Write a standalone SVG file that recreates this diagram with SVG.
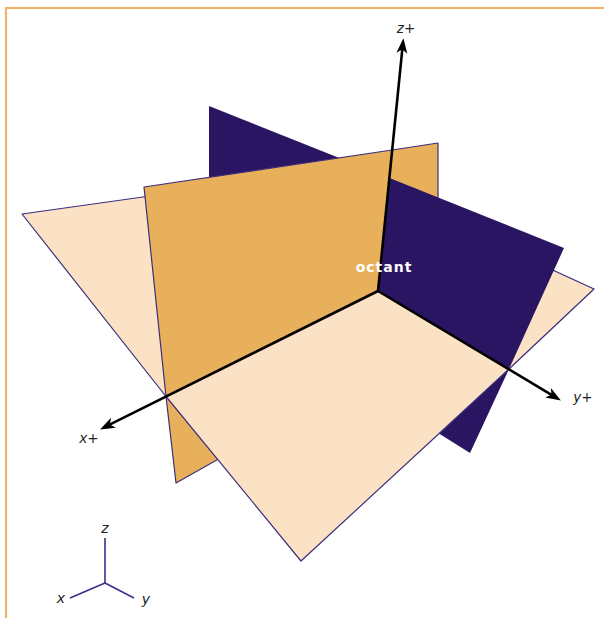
<svg xmlns="http://www.w3.org/2000/svg" width="604" height="618" viewBox="0 0 604 618">
<style>
.xy{fill:#FBE2C5}
.xz{fill:#E9B05C}
.yz{fill:#2A1562}
.edge{fill:none;stroke:#3D2E7C;stroke-width:1.2;stroke-linejoin:round}
.axis{stroke:#000;stroke-width:2.6;fill:none}
.lbl{font-family:"DejaVu Sans","Liberation Sans",sans-serif;font-size:13.5px;fill:#222}
.mini{stroke:#3D2E8A;stroke-width:1.6;fill:none}
.minilbl{font-family:"DejaVu Sans","Liberation Sans",sans-serif;font-size:14px;font-style:italic;fill:#222}
</style>
<defs>
<marker id="arrow" markerUnits="userSpaceOnUse" markerWidth="20" markerHeight="20" refX="0" refY="0" orient="auto" overflow="visible">
<path d="M9,0 L-6,-5.5 L-2,0 L-6,5.5 Z" fill="#000"/>
</marker>
</defs>
<rect x="6" y="8" width="700" height="700" fill="none" stroke="#EEB468" stroke-width="2.2"/>

<!-- back pieces -->
<g id="xy-plane-back">
<polygon class="xy" points="378,291 483,238 335,170 207,188"/>
<polyline class="edge" points="483,238 335,170 207,188"/>
</g>
<g id="xz-plane-back">
<polygon class="xz" points="378,291 438,261 438,334 369,374"/>
<polyline class="edge" points="438,261 438,334 369,374"/>
</g>
<g id="yz-plane-back">
<polygon class="yz" points="378,291 368,389 209,289 209,189"/>
</g>

<!-- middle pieces -->
<g id="yz-plane-upper-left">
<polygon class="yz" points="378,291 209,189 209,106 389.5,178"/>
</g>
<g id="yz-plane-lower-right">
<polygon class="yz" points="378,291 509,369 470,453 368,389"/>
</g>
<g id="xz-plane-upper-right">
<polygon class="xz" points="378,291 392,150 438,143 438,261"/>
<polyline class="edge" points="392,150 438,143 438,261"/>
</g>
<g id="xz-plane-lower-left">
<polygon class="xz" points="378,291 369,374 176,483 166,396.5"/>
<polyline class="edge" points="369,374 176,483 166,396.5"/>
</g>
<g id="xy-plane-left">
<polygon class="xy" points="378,291 207,188 22,214 166,396.5"/>
<polyline class="edge" points="207,188 22,214 166,396.5"/>
</g>
<g id="xy-plane-right">
<polygon class="xy" points="378,291 509,369 594,289 483,238"/>
<polyline class="edge" points="509,369 594,289 483,238"/>
</g>

<!-- front pieces -->
<g id="xz-plane-front">
<polygon class="xz" points="378,291 166,396.5 144,187 392,150"/>
<polyline class="edge" points="166,396.5 144,187 392,150"/>
</g>
<g id="yz-plane-front">
<polygon class="yz" points="378,291 389.5,178 564,248 509,369"/>
</g>
<g id="xy-plane-front">
<polygon class="xy" points="378,291 166,396.5 301,561 509,369"/>
<polyline class="edge" points="166,396.5 301,561 509,369"/>
</g>

<g id="connectors">
<line class="axis" x1="378" y1="291" x2="402.5" y2="47.3" marker-end="url(#arrow)"/>
<line class="axis" x1="378" y1="291" x2="108.1" y2="425.4" marker-end="url(#arrow)"/>
<line class="axis" x1="378" y1="291" x2="553.2" y2="395.9" marker-end="url(#arrow)"/>
</g>

<g id="labels">
<text class="lbl" x="406" y="33" text-anchor="middle"><tspan font-style="italic">z</tspan>+</text>
<text class="lbl" x="89" y="443" text-anchor="middle"><tspan font-style="italic">x</tspan>+</text>
<text class="lbl" x="583" y="402" text-anchor="middle"><tspan font-style="italic">y</tspan>+</text>
<text x="384" y="272" text-anchor="middle" font-family="DejaVu Sans, Liberation Sans, sans-serif" font-size="14" font-weight="bold" letter-spacing="1" fill="#fff">octant</text>
</g>

<g id="mini-axes">
<line class="mini" x1="105" y1="583" x2="105" y2="538"/>
<line class="mini" x1="105" y1="583" x2="70" y2="598"/>
<line class="mini" x1="105" y1="583" x2="134" y2="598"/>
<text class="minilbl" x="105" y="533" text-anchor="middle">z</text>
<text class="minilbl" x="61" y="603" text-anchor="middle">x</text>
<text class="minilbl" x="146" y="604" text-anchor="middle">y</text>
</g>
</svg>
